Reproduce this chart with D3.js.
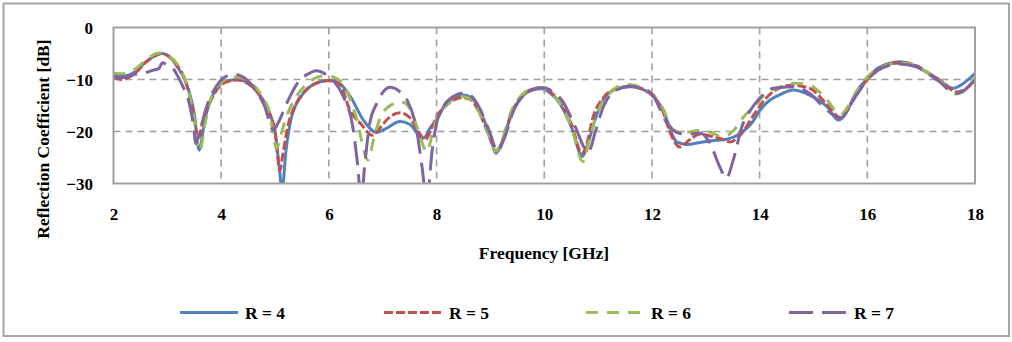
<!DOCTYPE html>
<html><head><meta charset="utf-8">
<script src="https://cdn.jsdelivr.net/npm/d3@7"></script>
<style>
body{margin:0;background:#fff}
text{font-family:"Liberation Serif","Times New Roman",serif;font-weight:bold;fill:#000}
</style>
</head><body>
<svg id="chart" width="1012" height="342"></svg>
<script>
// ---- data ----
const seriesNames = ["R = 4", "R = 5", "R = 6", "R = 7"];
const xTickValues = [2, 4, 6, 8, 10, 12, 14, 16, 18];
const yTickValues = [0, -10, -20, -30];

const freqR4 = [2.0,2.2,2.4,2.6,2.8,2.9,3.0,3.1,3.2,3.3,3.4,3.5,3.59,3.7,3.8,3.9,4.0,4.15,4.3,4.5,4.7,4.9,5.0,5.08,5.13,5.2,5.3,5.5,5.7,5.9,6.0,6.2,6.4,6.64,6.89,7.05,7.32,7.5,7.75,7.9,8.0,8.19,8.4,8.5,8.65,8.8,9.0,9.1,9.2,9.4,9.6,9.8,9.95,10.1,10.3,10.5,10.71,10.82,10.95,11.1,11.3,11.6,11.8,12.0,12.2,12.46,12.65,12.9,13.1,13.39,13.64,13.88,14.0,14.2,14.4,14.62,14.93,15.25,15.47,15.62,15.8,16.0,16.2,16.4,16.6,16.8,17.0,17.3,17.6,17.75,18.0];
const dbR4   = [-9.0,-9.3,-8.5,-6.6,-5.3,-5.0,-5.3,-6.2,-7.8,-9.5,-12.2,-16.5,-23.6,-17.5,-14.0,-12.0,-10.8,-10.2,-10.0,-10.7,-12.8,-16.5,-20.0,-27.0,-31.5,-24.0,-17.5,-13.0,-11.0,-10.3,-10.2,-10.8,-13.3,-17.8,-20.2,-19.5,-18.1,-18.6,-21.3,-19.0,-17.8,-14.3,-13.2,-13.0,-13.5,-16.0,-21.0,-24.2,-22.5,-16.5,-13.2,-12.0,-11.8,-12.5,-14.8,-19.0,-24.8,-22.0,-17.5,-13.8,-12.0,-11.4,-11.8,-13.0,-15.8,-22.0,-22.5,-22.1,-21.8,-21.5,-20.4,-18.0,-16.0,-13.9,-12.8,-12.0,-13.0,-15.2,-17.8,-16.2,-12.3,-9.8,-7.8,-6.9,-6.6,-7.0,-8.0,-9.8,-11.7,-11.0,-8.8];

const freqR5 = [2.0,2.15,2.4,2.6,2.8,2.9,3.0,3.2,3.3,3.4,3.5,3.57,3.65,3.8,3.9,4.0,4.2,4.3,4.5,4.7,4.9,5.0,5.09,5.15,5.25,5.4,5.6,5.8,6.0,6.2,6.39,6.6,6.8,6.95,7.1,7.32,7.5,7.65,7.79,7.9,8.0,8.2,8.4,8.5,8.65,8.8,9.0,9.1,9.2,9.4,9.6,9.8,9.95,10.1,10.3,10.5,10.7,10.8,10.9,11.1,11.3,11.6,11.8,12.0,12.2,12.35,12.52,12.7,12.89,13.1,13.26,13.45,13.64,13.88,14.1,14.3,14.6,14.93,15.25,15.5,15.7,16.0,16.2,16.4,16.7,16.9,17.1,17.4,17.65,17.8,18.0];
const dbR5   = [-9.6,-10.0,-8.8,-6.7,-5.3,-5.0,-5.4,-7.6,-9.4,-12.5,-17.5,-21.5,-18.5,-14.2,-12.3,-11.0,-10.2,-10.1,-10.8,-12.8,-16.5,-20.0,-27.5,-24.0,-18.5,-14.5,-11.8,-10.6,-10.2,-10.9,-15.9,-18.6,-20.7,-19.3,-17.5,-16.4,-17.3,-19.8,-21.6,-19.5,-17.2,-14.8,-13.6,-13.5,-14.0,-16.5,-21.5,-23.8,-22.5,-16.2,-13.0,-11.8,-11.6,-12.3,-14.5,-18.5,-24.2,-22.0,-17.5,-13.5,-11.9,-11.3,-11.7,-13.0,-16.0,-20.5,-23.0,-21.6,-20.5,-20.9,-21.3,-22.0,-20.7,-17.0,-13.8,-12.0,-11.1,-11.7,-14.8,-17.3,-14.5,-10.0,-8.0,-7.0,-6.8,-7.3,-8.5,-10.5,-12.4,-12.0,-9.9];

const freqR6 = [2.0,2.2,2.4,2.6,2.8,2.87,3.0,3.2,3.3,3.4,3.5,3.6,3.7,3.8,3.9,4.0,4.2,4.3,4.5,4.7,4.9,5.03,5.1,5.2,5.4,5.6,5.8,5.95,6.1,6.3,6.5,6.73,6.83,6.95,7.1,7.35,7.5,7.65,7.82,7.92,8.0,8.2,8.4,8.5,8.65,8.8,9.0,9.1,9.2,9.4,9.6,9.8,9.95,10.1,10.3,10.5,10.72,10.85,11.0,11.2,11.5,11.6,11.8,12.0,12.2,12.4,12.6,12.89,13.1,13.3,13.5,13.7,13.95,14.1,14.4,14.65,14.93,15.25,15.5,15.68,15.85,16.05,16.3,16.6,16.9,17.1,17.4,17.6,17.75,18.0];
const dbR6   = [-8.8,-8.9,-8.0,-6.3,-5.0,-4.9,-5.3,-7.3,-9.3,-12.5,-17.5,-23.8,-18.5,-14.0,-11.8,-10.6,-9.6,-9.5,-10.3,-12.3,-16.5,-23.2,-21.0,-17.5,-13.2,-10.8,-9.5,-9.3,-9.6,-11.5,-17.0,-25.5,-21.5,-17.5,-15.3,-14.3,-15.5,-19.5,-23.9,-20.5,-17.5,-14.8,-13.3,-13.3,-14.0,-16.5,-21.5,-23.8,-22.0,-15.8,-12.8,-11.7,-11.6,-12.4,-14.7,-19.0,-25.8,-21.0,-16.0,-12.8,-11.0,-11.0,-11.5,-12.7,-15.5,-19.8,-20.2,-19.8,-20.2,-21.0,-20.0,-17.2,-14.6,-12.8,-11.4,-10.7,-11.1,-13.9,-16.8,-14.5,-11.5,-9.0,-7.5,-6.8,-7.3,-8.5,-10.7,-12.8,-12.5,-9.6];

const freqR7 = [2.0,2.2,2.4,2.55,2.74,2.84,2.91,2.99,3.08,3.2,3.3,3.4,3.48,3.53,3.6,3.73,3.92,4.07,4.23,4.4,4.6,4.8,4.97,5.05,5.22,5.46,5.6,5.77,5.97,6.1,6.27,6.45,6.53,6.6,6.67,6.76,6.89,7.0,7.14,7.3,7.45,7.63,7.72,7.82,7.92,8.0,8.13,8.3,8.5,8.65,8.8,9.0,9.13,9.25,9.45,9.65,9.85,10.0,10.15,10.35,10.55,10.82,10.95,11.1,11.3,11.6,11.8,12.0,12.28,12.52,12.71,12.89,13.08,13.26,13.38,13.51,13.67,13.83,14.0,14.25,14.62,14.93,15.25,15.5,15.74,16.0,16.2,16.4,16.6,16.9,17.1,17.35,17.63,17.75,18.0];
const dbR7   = [-9.5,-9.6,-9.0,-8.8,-8.2,-7.9,-6.8,-7.1,-7.5,-9.5,-11.6,-14.3,-18.5,-22.3,-20.0,-15.2,-11.1,-9.5,-9.0,-9.5,-11.5,-15.0,-19.7,-18.5,-14.5,-10.1,-9.0,-8.3,-9.2,-10.4,-13.3,-19.5,-26.0,-33.0,-26.0,-18.4,-14.6,-12.5,-11.5,-12.2,-13.9,-19.7,-26.0,-33.0,-23.5,-18.4,-15.2,-13.3,-12.6,-13.2,-15.5,-20.5,-23.8,-21.5,-15.5,-12.7,-11.7,-11.6,-12.3,-14.3,-18.5,-23.9,-20.0,-15.2,-12.3,-11.3,-11.7,-12.8,-18.4,-20.4,-20.5,-20.3,-22.3,-26.8,-29.0,-25.5,-19.1,-15.9,-13.6,-11.7,-11.4,-12.7,-15.9,-17.5,-13.9,-10.1,-8.2,-7.3,-7.0,-7.5,-8.7,-10.5,-12.7,-12.4,-10.1];

const freqs = [freqR4, freqR5, freqR6, freqR7];
const dbs = [dbR4, dbR5, dbR6, dbR7];
const colors = ["#4F81BD", "#C0504D", "#9BBB59", "#8064A2"];
const dashes = [null, "9,3", "12,9", "24,9"];

// ---- chart ----
const svg = d3.select("#chart");
const L = 113.5, R = 975, T = 27.5, B = 183.5;
const x = d3.scaleLinear().domain([2, 18]).range([L, R]);
const y = d3.scaleLinear().domain([-30, 0]).range([B, T]);

// outer border
svg.append("rect").attr("x", 3.5).attr("y", 3.5).attr("width", 1005.5).attr("height", 332.5)
  .attr("fill", "#fff").attr("stroke", "#a6a6a6").attr("stroke-width", 2);

// gridlines
const grid = svg.append("g").attr("stroke", "#a0a0a0").attr("stroke-width", 1.6).attr("stroke-dasharray", "7,5");
grid.selectAll(".vg").data(xTickValues.filter(v => v > 2 && v < 18)).join("line")
  .attr("x1", d => x(d)).attr("x2", d => x(d)).attr("y1", T).attr("y2", B);
grid.selectAll(".hg").data(yTickValues.filter(v => v > -30 && v < 0)).join("line")
  .attr("x1", L).attr("x2", R).attr("y1", d => y(d)).attr("y2", d => y(d));

// clip
svg.append("clipPath").attr("id", "clip").append("rect")
  .attr("x", L).attr("y", T).attr("width", R - L).attr("height", B - T);

const line = d3.line().x(d => x(d[0])).y(d => y(d[1])).curve(d3.curveMonotoneX);
const plot = svg.append("g").attr("clip-path", "url(#clip)");
freqs.forEach((fs, i) => {
  const pts = fs.map((f, j) => [f, dbs[i][j]]);
  plot.append("path").datum(pts).attr("d", line)
    .attr("fill", "none").attr("stroke", colors[i]).attr("stroke-width", 3)
    .attr("stroke-linejoin", "round")
    .attr("stroke-dasharray", dashes[i]);
});

// plot border
svg.append("rect").attr("x", L).attr("y", T).attr("width", R - L).attr("height", B - T)
  .attr("fill", "none").attr("stroke", "#a0a0a0").attr("stroke-width", 2);

// axes
const xAxis = svg.append("g").attr("transform", `translate(0,${B})`)
  .call(d3.axisBottom(x).tickValues(xTickValues).tickSize(0).tickPadding(24.5).tickFormat(d3.format("d")));
xAxis.select(".domain").remove();
xAxis.selectAll("text").attr("font-size", 17).attr("font-family", null);

const yAxis = svg.append("g").attr("transform", `translate(${L},0)`)
  .call(d3.axisLeft(y).tickValues(yTickValues).tickSize(0).tickPadding(20.5).tickFormat(d3.format("d")));
yAxis.select(".domain").remove();
yAxis.selectAll("text").attr("font-size", 17).attr("font-family", null).attr("dy", "0.37em");

// axis titles
svg.append("text").attr("x", 544).attr("y", 259).attr("text-anchor", "middle")
  .attr("font-size", 17.5).text("Frequency [GHz]");
svg.append("text").attr("transform", "translate(49,139) rotate(-90)").attr("text-anchor", "middle")
  .attr("font-size", 17.5).text("Reflection Coefficient [dB]");

// legend
const legendX = [180, 384, 586, 789];
const lg = svg.append("g");
seriesNames.forEach((n, i) => {
  lg.append("line").attr("x1", legendX[i]).attr("x2", legendX[i] + 58)
    .attr("y1", 312.5).attr("y2", 312.5)
    .attr("stroke", colors[i]).attr("stroke-width", 3).attr("stroke-dasharray", dashes[i]);
  lg.append("text").attr("x", legendX[i] + 65).attr("y", 318.5).attr("font-size", 17.5).text(n);
});
</script>
</body></html>
